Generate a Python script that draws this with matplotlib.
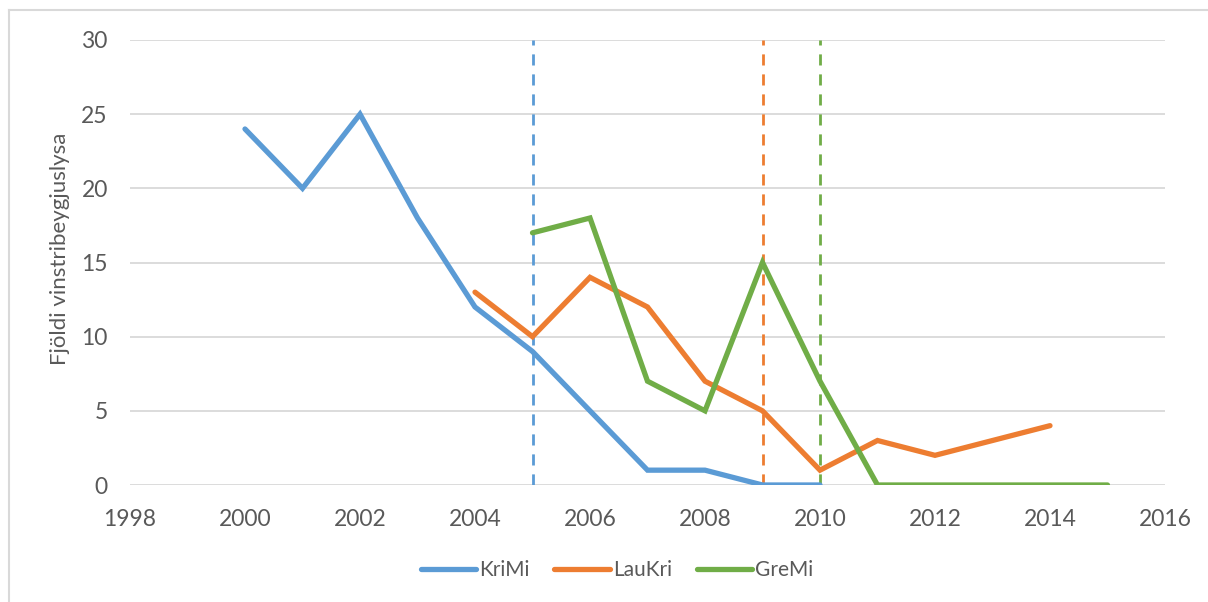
import matplotlib
matplotlib.use('Agg')
import matplotlib.pyplot as plt
from matplotlib.lines import Line2D

# --- data ---
years_krimi = [2000, 2001, 2002, 2003, 2004, 2005, 2006, 2007, 2008, 2009, 2010]
krimi = [24, 20, 25, 18, 12, 9, 5, 1, 1, 0, 0]

years_laukri = [2004, 2005, 2006, 2007, 2008, 2009, 2010, 2011, 2012, 2013, 2014]
laukri = [13, 10, 14, 12, 7, 5, 1, 3, 2, 3, 4]

years_gremi = [2005, 2006, 2007, 2008, 2009, 2010, 2011, 2012, 2013, 2014, 2015]
gremi = [17, 18, 7, 5, 15, 7, 0, 0, 0, 0, 0]

# years where each series gets a marker line
marker_years = [2005, 2009, 2010]

x_ticks = [1998, 2000, 2002, 2004, 2006, 2008, 2010, 2012, 2014, 2016]
y_ticks = [0, 5, 10, 15, 20, 25, 30]

BLUE = '#5B9BD5'
ORANGE = '#ED7D31'
GREEN = '#70AD47'
TXT = '#595959'
GRID = '#D9D9D9'

plt.rcParams['font.family'] = ['Lato', 'DejaVu Sans']

fig = plt.figure(figsize=(12.08, 6.02), dpi=100)
ax = fig.add_axes([130 / 1208, 1 - 485 / 602, 1035 / 1208, 445 / 602])

# chart frame
fig.add_artist(Line2D([9 / 1208, 1.0], [1 - 10 / 602, 1 - 10 / 602],
                      transform=fig.transFigure, color=GRID, lw=1.5))
fig.add_artist(Line2D([9 / 1208, 9 / 1208], [0, 1 - 10 / 602],
                      transform=fig.transFigure, color=GRID, lw=1.5))

for yv in y_ticks:
    ax.axhline(yv, color=GRID, lw=1.3, zorder=0)

for yr, c in zip(marker_years, [BLUE, ORANGE, GREEN]):
    ax.plot([yr, yr], [0, 30], color=c, lw=2, ls=(0, (4, 3.2)), zorder=1)

ax.plot(years_krimi, krimi, color=BLUE, lw=3.8, solid_capstyle='round',
        solid_joinstyle='miter', label='KriMi', zorder=3)
ax.plot(years_laukri, laukri, color=ORANGE, lw=3.8, solid_capstyle='round',
        solid_joinstyle='miter', label='LauKri', zorder=3)
ax.plot(years_gremi, gremi, color=GREEN, lw=3.8, solid_capstyle='round',
        solid_joinstyle='miter', label='GreMi', zorder=3)

ax.set_xlim(1998, 2016)
ax.set_ylim(0, 30)
ax.set_xticks(x_ticks)
ax.set_yticks(y_ticks)
ax.tick_params(length=0, labelsize=16.5, colors=TXT)
ax.tick_params(axis='x', pad=17)
ax.tick_params(axis='y', pad=16)
for s in ax.spines.values():
    s.set_visible(False)

ax.set_ylabel('Fjöldi vinstribeygjuslysa', fontsize=16, color=TXT)
ax.yaxis.set_label_coords(-0.058, 0.53)

fig.legend(loc='center', bbox_to_anchor=(617 / 1208, 1 - 570 / 602), ncol=3,
           frameon=False, fontsize=15, labelcolor=TXT, handlelength=2.65,
           handletextpad=0.15, columnspacing=1.2)

fig.savefig('out.png', dpi=100, facecolor='white')
